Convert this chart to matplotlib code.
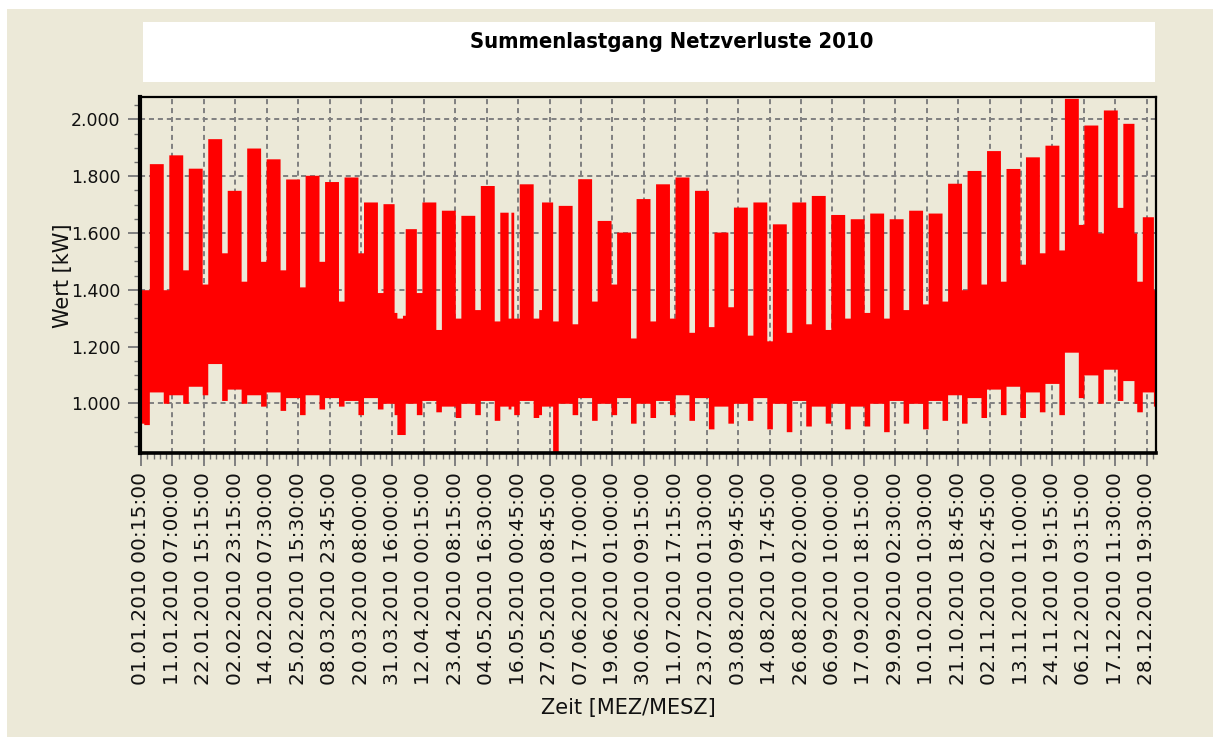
import matplotlib
matplotlib.use("Agg")
import matplotlib.pyplot as plt
import numpy as np
from matplotlib.patches import Rectangle
from matplotlib.ticker import MultipleLocator, FuncFormatter
from matplotlib import font_manager as fm

# ---------------- data ----------------
title = "Summenlastgang Netzverluste 2010"
x_label = "Zeit [MEZ/MESZ]"
y_label = "Wert [kW]"

tick_labels = [
    "01.01.2010 00:15:00", "11.01.2010 07:00:00", "22.01.2010 15:15:00",
    "02.02.2010 23:15:00", "14.02.2010 07:30:00", "25.02.2010 15:30:00",
    "08.03.2010 23:45:00", "20.03.2010 08:00:00", "31.03.2010 16:00:00",
    "12.04.2010 00:15:00", "23.04.2010 08:15:00", "04.05.2010 16:30:00",
    "16.05.2010 00:45:00", "27.05.2010 08:45:00", "07.06.2010 17:00:00",
    "19.06.2010 01:00:00", "30.06.2010 09:15:00", "11.07.2010 17:15:00",
    "23.07.2010 01:30:00", "03.08.2010 09:45:00", "14.08.2010 17:45:00",
    "26.08.2010 02:00:00", "06.09.2010 10:00:00", "17.09.2010 18:15:00",
    "29.09.2010 02:30:00", "10.10.2010 10:30:00", "21.10.2010 18:45:00",
    "02.11.2010 02:45:00", "13.11.2010 11:00:00", "24.11.2010 19:15:00",
    "06.12.2010 03:15:00", "17.12.2010 11:30:00", "28.12.2010 19:30:00",
]

# weekly maximum of working days (Mon-Fri), week 0 = 04.01.-08.01.2010
week_peak = [1844, 1875, 1828, 1932, 1750, 1899, 1861, 1790, 1803, 1781,
             1797, 1709, 1703, 1615, 1709, 1680, 1662, 1767, 1673, 1773,
             1709, 1697, 1791, 1644, 1603, 1721, 1773, 1797, 1750, 1603,
             1691, 1709, 1632, 1709, 1732, 1665, 1650, 1670, 1650, 1680,
             1670, 1775, 1820, 1890, 1827, 1868, 1909, 2074, 1980, 2033,
             1986, 1657]
# weekly minimum of working days
week_low = [1040, 1030, 1060, 1140, 1050, 1030, 1040, 1020, 1030, 1020,
            1010, 1020, 1000, 1000, 1010, 990, 1000, 1010, 990, 1010,
            990, 1000, 1020, 1000, 1020, 1000, 1010, 1030, 1020, 990,
            1000, 1020, 1000, 1010, 990, 1000, 990, 1000, 1010, 1000,
            1010, 1030, 1020, 1050, 1060, 1040, 1070, 1180, 1100, 1120,
            1080, 1040]
# weekend maximum, weekend 0 = 02./03.01.2010
weekend_peak = [1400, 1400, 1470, 1420, 1530, 1430, 1500, 1470, 1410, 1500,
                1360, 1530, 1390, 1300, 1390, 1260, 1300, 1330, 1290, 1300,
                1300, 1290, 1280, 1360, 1420, 1230, 1290, 1300, 1250, 1270,
                1340, 1240, 1220, 1250, 1280, 1260, 1300, 1320, 1300, 1330,
                1350, 1360, 1400, 1420, 1430, 1490, 1530, 1540, 1630, 1600,
                1690, 1430]
# weekend minimum
weekend_low = [925, 1000, 1000, 1030, 1010, 1000, 990, 975, 960, 980,
               990, 960, 980, 890, 960, 970, 950, 960, 940, 960,
               950, 830, 960, 940, 960, 930, 950, 960, 940, 910,
               930, 940, 910, 900, 920, 930, 910, 920, 900, 930,
               910, 940, 930, 950, 960, 950, 970, 960, 1020, 1000,
               1010, 970]
# public holidays (day of year, 0 = 01.01.) with their maximum / minimum
holiday_day = [0, 91, 94, 132, 143, 357, 364]
holiday_peak = [1400, 1320, 1310, 1300, 1330, 1600, 1400]
holiday_low = [930, 960, 890, 980, 960, 1000, 990]

# ---------------- build daily envelope from the small arrays ----------------
n_days = 365
hi = np.zeros(n_days)
lo = np.zeros(n_days)
for d in range(n_days):
    wd = (d + 4) % 7          # 01.01.2010 was a Friday, 0 = Monday
    if wd >= 5:
        j = (d - 1) // 7
        hi[d], lo[d] = weekend_peak[j], weekend_low[j]
    else:
        k = (d - 3) // 7
        if 0 <= k < len(week_peak):
            hi[d], lo[d] = week_peak[k], week_low[k]
for d, p, l in zip(holiday_day, holiday_peak, holiday_low):
    hi[d], lo[d] = p, l

# ---------------- figure ----------------
W, H = 1213, 737
BEIGE = "#ECE9D8"
fig = plt.figure(figsize=(W / 100, H / 100), dpi=100)
fig.patch.set_facecolor("white")


def fx(px):
    return px / W


def fy(py):
    return 1 - py / H


fig.patches.append(Rectangle((fx(7), 0), 1 - fx(7), fy(9), transform=fig.transFigure,
                             facecolor=BEIGE, edgecolor="none", zorder=-2))
fig.patches.append(Rectangle((fx(143), fy(82)), fx(1155) - fx(143), fy(22) - fy(82),
                             transform=fig.transFigure, facecolor="white",
                             edgecolor="none", zorder=-1))

L, R, T, B = 139.7, 1156.2, 97.2, 452.7
ax = fig.add_axes([fx(L), fy(B), fx(R) - fx(L), fy(T) - fy(B)])
ax.set_zorder(3)
ax.set_facecolor(BEIGE)

x_edges = np.arange(n_days + 1)
ax.fill_between(x_edges, np.append(lo, lo[-1]), np.append(hi, hi[-1]),
                step="post", color="#FF0000", linewidth=0, zorder=2)

# scales
px_per_day = (R - 141.0) / n_days
ax.set_xlim((L - 141.0) / px_per_day, n_days)
ax.set_ylim(826, 2078)

tick_step = 31.43 / px_per_day
ticks = np.arange(len(tick_labels)) * tick_step
ax.set_xticks(ticks)
ax.set_xticklabels(tick_labels, rotation=90, fontsize=14.5, family="DejaVu Sans")
ax.xaxis.set_minor_locator(MultipleLocator(tick_step / 5))

ax.set_yticks(np.arange(1000, 2001, 200))
ax.yaxis.set_major_formatter(FuncFormatter(lambda v, p: f"{v:,.0f}".replace(",", ".")))
ax.yaxis.set_minor_locator(MultipleLocator(50))
for lab in ax.get_yticklabels():
    lab.set_fontsize(12.5)

ax.tick_params(which="major", direction="out", length=9, width=1.4, color="#808080",
               pad=5, labelcolor="#111111")
ax.tick_params(which="minor", direction="out", length=4, width=1.0, color="#707070")

ax.grid(True, which="major", color="#808080", linewidth=1.4, linestyle=(0, (2.6, 2.0)))
ax.set_axisbelow(True)

for side, lw in (("left", 3.0), ("bottom", 2.6), ("top", 1.6), ("right", 1.6)):
    ax.spines[side].set_linewidth(lw)
    ax.spines[side].set_color("black")
    ax.spines[side].set_zorder(5)

# texts
fig.text(fx(63), fy(276), y_label, rotation=90, ha="center", va="center",
         fontsize=15, color="#111111")
fig.text(fx(628), fy(708), x_label, ha="center", va="center", fontsize=15,
         color="#111111")

names = {f.name for f in fm.fontManager.ttflist}
title_family = "Liberation Sans Narrow" if "Liberation Sans Narrow" in names else "DejaVu Sans"
t = fig.text(fx(672), fy(42), title, ha="center", va="center", fontsize=14,
             fontweight="bold", family=title_family, stretch="condensed", color="black")
fig.canvas.draw()
bb = t.get_window_extent()
t.set_fontsize(min(16.0, 14 * 406 / bb.width))

fig.savefig("out.png", dpi=100, facecolor=fig.get_facecolor())
